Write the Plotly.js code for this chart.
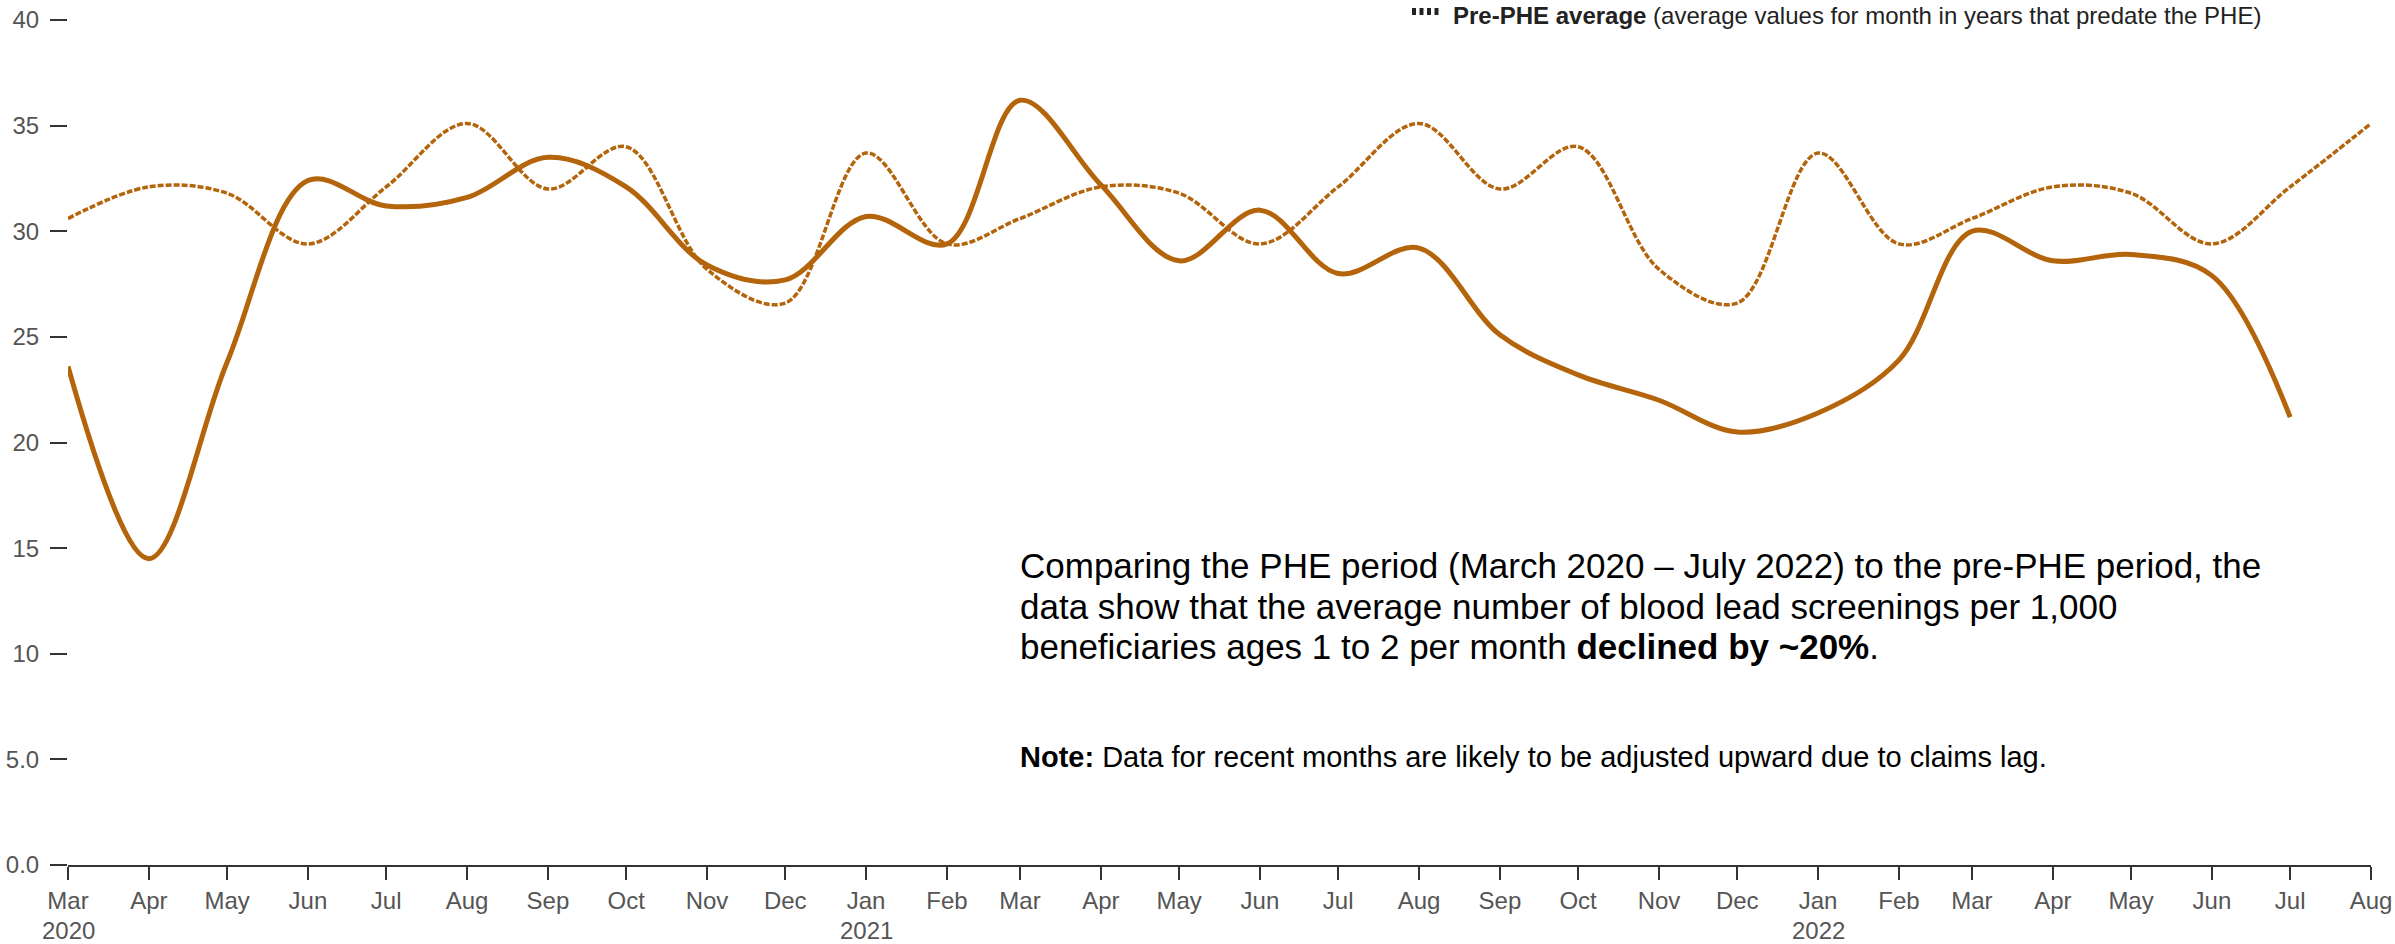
<!DOCTYPE html>
<html>
<head>
<meta charset="utf-8">
<script src="https://cdn.plot.ly/plotly-3.0.1.min.js"></script>
<style>
  html, body { margin: 0; padding: 0; background: #ffffff; }
  #chart { width: 2395px; height: 944px; }
</style>
</head>
<body>
<div id="chart"></div>
<script>
// ---- Data ----
const months = [
  "2020-03-01","2020-04-01","2020-05-01","2020-06-01","2020-07-01","2020-08-01",
  "2020-09-01","2020-10-01","2020-11-01","2020-12-01","2021-01-01","2021-02-01",
  "2021-03-01","2021-04-01","2021-05-01","2021-06-01","2021-07-01","2021-08-01",
  "2021-09-01","2021-10-01","2021-11-01","2021-12-01","2022-01-01","2022-02-01",
  "2022-03-01","2022-04-01","2022-05-01","2022-06-01","2022-07-01","2022-08-01"
];

// Blood lead screenings per 1,000 beneficiaries ages 1 to 2 (PHE period, Mar 2020 - Jul 2022)
const pheValues = [
  23.6, 14.5, 23.8, 32.4, 31.2, 31.6, 33.5, 32.1, 28.4, 27.7, 30.7, 29.4,
  36.2, 32.2, 28.6, 31.0, 28.0, 29.2, 25.1, 23.2, 22.0, 20.5, 21.4, 23.9,
  30.0, 28.6, 28.9, 27.9, 21.2
];

// Pre-PHE average for the same calendar month (Mar 2020 - Aug 2022)
const prePheValues = [
  30.6, 32.1, 31.8, 29.4, 32.1, 35.1, 32.0, 34.0, 28.2, 26.6, 33.7, 29.4,
  30.6, 32.1, 31.8, 29.4, 32.1, 35.1, 32.0, 34.0, 28.2, 26.6, 33.7, 29.4,
  30.6, 32.1, 31.8, 29.4, 32.1, 35.1
];

const xTickLabels = [
  "Mar","Apr","May","Jun","Jul","Aug","Sep","Oct","Nov","Dec","Jan","Feb",
  "Mar","Apr","May","Jun","Jul","Aug","Sep","Oct","Nov","Dec","Jan","Feb",
  "Mar","Apr","May","Jun","Jul","Aug"
];
const yearLabels = ["2020", "2021", "2022"];
const yearLabelDates = ["2020-03-01", "2021-01-01", "2022-01-01"];

const yTickVals = [0, 5, 10, 15, 20, 25, 30, 35, 40];
const yTickText = ["0.0", "5.0", "10", "15", "20", "25", "30", "35", "40"];

const summaryLines = [
  "Comparing the PHE period (March 2020 \u2013 July 2022) to the pre-PHE period, the",
  "data show that the average number of blood lead screenings per 1,000",
  "beneficiaries ages 1 to 2 per month <b>declined by ~20%</b>."
];
const noteText = "<b>Note:</b> Data for recent months are likely to be adjusted upward due to claims lag.";
const legendText = "<b>Pre-PHE average</b> (average values for month in years that predate the PHE)";

const lineColor = "#b4640b";
const fontFamily = "'Liberation Sans', Arial, Helvetica, sans-serif";

// ---- Traces ----
const tracePre = {
  x: months,
  y: prePheValues,
  type: "scatter",
  mode: "lines",
  name: "Pre-PHE average",
  line: { color: lineColor, width: 3.5, dash: "6px,2px", shape: "spline", smoothing: 1 },
  hoverinfo: "x+y"
};
const tracePhe = {
  x: months.slice(0, pheValues.length),
  y: pheValues,
  type: "scatter",
  mode: "lines",
  name: "PHE period",
  line: { color: lineColor, width: 5, shape: "spline", smoothing: 1 },
  hoverinfo: "x+y"
};

// ---- Layout helpers (pixel -> paper) ----
const plotLeft = 68, plotWidth = 2303, plotBottom = 865, plotHeight = 845;
function px(xp) { return (xp - plotLeft) / plotWidth; }
function py(yp) { return (plotBottom - yp) / plotHeight; }

const annotations = [];
const summaryCenters = [565, 606, 647];
summaryLines.forEach(function (t, i) {
  annotations.push({
    xref: "paper", yref: "paper",
    x: px(1018), y: py(summaryCenters[i]), xanchor: "left", yanchor: "middle", align: "left",
    showarrow: false,
    text: t,
    font: { family: fontFamily, size: 35, color: "#000000" }
  });
});
annotations.push({
  xref: "paper", yref: "paper",
  x: px(1018), y: py(757), xanchor: "left", yanchor: "middle", align: "left",
  showarrow: false,
  text: noteText,
  font: { family: fontFamily, size: 29, color: "#000000" }
});
annotations.push({
  xref: "paper", yref: "paper",
  x: px(1451), y: py(16), xanchor: "left", yanchor: "middle", align: "left",
  showarrow: false,
  text: legendText,
  font: { family: fontFamily, size: 24, color: "#222222" }
});
yearLabels.forEach(function (lbl, i) {
  annotations.push({
    xref: "x", yref: "paper",
    x: yearLabelDates[i], y: py(931),
    xanchor: "center", yanchor: "middle",
    showarrow: false,
    text: lbl,
    font: { family: fontFamily, size: 24, color: "#555555" }
  });
});

const layout = {
  width: 2395,
  height: 944,
  margin: { l: 68, r: 24, t: 20, b: 79, pad: 0 },
  paper_bgcolor: "#ffffff",
  plot_bgcolor: "#ffffff",
  showlegend: false,
  font: { family: fontFamily, size: 24, color: "#555555" },
  xaxis: {
    type: "date",
    range: ["2020-03-01", "2022-08-01"],
    tickmode: "array",
    tickvals: months,
    ticktext: xTickLabels,
    ticks: "outside",
    ticklen: 13,
    tickwidth: 2,
    tickcolor: "#333333",
    showline: true,
    linecolor: "#333333",
    linewidth: 2,
    showgrid: false,
    zeroline: false,
    tickfont: { family: fontFamily, size: 24, color: "#555555" },
    fixedrange: true
  },
  yaxis: {
    range: [0, 40],
    tickmode: "array",
    tickvals: yTickVals,
    ticktext: yTickText,
    ticks: "outside",
    ticklen: 17,
    tickwidth: 2,
    tickcolor: "#333333",
    ticklabelstandoff: 6,
    showline: false,
    showgrid: false,
    zeroline: false,
    tickfont: { family: fontFamily, size: 24, color: "#555555" },
    fixedrange: true
  },
  shapes: [
    {
      type: "line", xref: "paper", yref: "paper",
      x0: px(1412), x1: px(1441),
      y0: py(11.5), y1: py(11.5),
      line: { color: "#222222", width: 7, dash: "4px,3.5px" }
    }
  ],
  annotations: annotations
};

Plotly.newPlot("chart", [tracePre, tracePhe], layout, { displayModeBar: false, staticPlot: true });
</script>
</body>
</html>
